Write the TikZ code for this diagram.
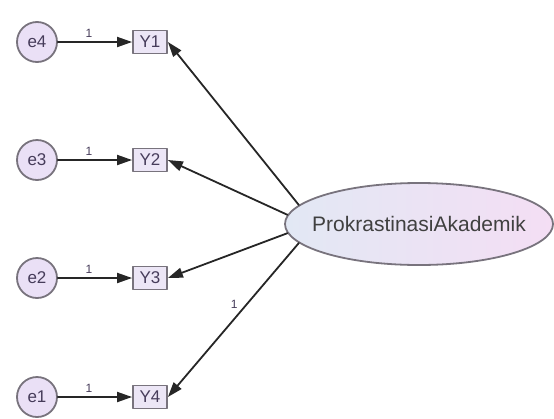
\documentclass[tikz,border=0pt]{standalone}
\usepackage{fontspec}
\setmainfont{Liberation Sans}
\usetikzlibrary{arrows.meta}
\usetikzlibrary{shapes.geometric}

\definecolor{errfill}{RGB}{234,224,246}
\definecolor{obsfill}{RGB}{236,230,246}
\definecolor{latleft}{RGB}{226,232,244}
\definecolor{latright}{RGB}{244,222,244}
\definecolor{rimgray}{RGB}{120,115,125}
\definecolor{labcol}{RGB}{70,60,90}

\begin{document}
\begin{tikzpicture}[line cap=round,line join=round,>={Triangle[length=15pt,width=10pt]},x=1.0pt,y=-1.0pt,
  err/.style={circle,draw=rimgray,line width=1.8pt,fill=errfill,minimum size=40pt,inner sep=0pt,text=labcol,font=\fontsize{17}{17}\selectfont},
  obs/.style={rectangle,draw=rimgray,line width=1.8pt,fill=obsfill,minimum width=34pt,minimum height=23pt,inner sep=0pt,text=labcol,font=\fontsize{17}{17}\selectfont},
  lat/.style={ellipse,draw=rimgray,line width=1.8pt,left color=latleft,right color=latright,minimum width=268pt,minimum height=82pt,inner xsep=-14pt,inner ysep=0pt,text=black!75,font=\fontsize{21}{21}\selectfont},
  path/.style={->,line width=1.8pt,draw=black!85},
  wt/.style={text=labcol,font=\fontsize{12}{12}\selectfont,inner sep=1pt}]
\useasboundingbox (0,0) rectangle (554,418);
% error terms and indicators
\node[err] (e4) at (37,42) {e4};
\node[err] (e3) at (37,160) {e3};
\node[err] (e2) at (37,278) {e2};
\node[err] (e1) at (37,397) {e1};
\node[obs] (y1) at (150,42) {Y1};
\node[obs] (y2) at (150,160) {Y2};
\node[obs] (y3) at (150,278) {Y3};
\node[obs] (y4) at (150,397) {Y4};
% latent variable
\node[lat] (pa) at (419,224) {ProkrastinasiAkademik};
\draw [path] (e4) -- node[wt,pos=0.42,above=3pt]{1} (y1);
\draw [path] (e3) -- node[wt,pos=0.42,above=3pt]{1} (y2);
\draw [path] (e2) -- node[wt,pos=0.42,above=3pt]{1} (y3);
\draw [path] (e1) -- node[wt,pos=0.42,above=3pt]{1} (y4);
\draw [path] (pa.171) -- (y1.east);
\draw [path] (pa.176) -- (y2.east);
\draw [path] (pa.184) -- (y3.east);
\draw [path] (pa.189) -- node[wt,pos=0.4,left=7pt]{1} (y4.east);
\end{tikzpicture}
\end{document}
